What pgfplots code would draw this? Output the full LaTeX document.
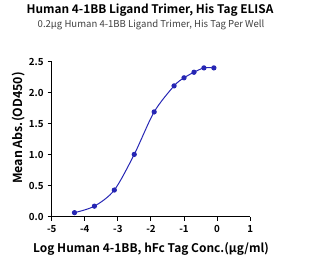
\documentclass[border=0pt]{standalone}
\usepackage{pgfplots}
\pgfplotsset{compat=1.18}
\usepackage{fontspec}
\setmainfont{Noto Sans CJK SC}[BoldFont={Noto Sans CJK SC Bold}]
\definecolor{curve}{HTML}{2626B4}
\begin{document}
\begin{tikzpicture}[x=1bp,y=1bp]
\path[use as bounding box] (0,0) rectangle (323,266);
\begin{axis}[
  scale only axis,
  width=198.5bp, height=155bp,
  at={(51.7bp,49.3bp)}, anchor=south west,
  xmin=-5, xmax=1, ymin=0, ymax=2.5,
  axis lines=left,
  axis line style={line width=0.9pt,-},
  xtick={-5,-4,...,1}, ytick={0,0.5,...,2.5},
  tick style={line width=0.9pt,black},
  tick align=outside, major tick length=4bp,
  /pgf/number format/assume math mode=true,
  yticklabel style={/pgf/number format/fixed,/pgf/number format/fixed zerofill,/pgf/number format/precision=1,font=\fontsize{9.8}{10}\selectfont\bfseries, xshift=-0.5bp},
  xticklabel style={font=\fontsize{9.8}{10}\selectfont\bfseries, yshift=-1.5bp},
  clip=false,
]
\addplot[curve, line width=1pt, smooth, tension=0.5, mark=*, mark size=2.1pt, mark options={fill=curve}]
coordinates {
(-4.311,0.065) (-3.709,0.17) (-3.107,0.43) (-2.505,1.005) (-1.903,1.69)
(-1.301,2.11) (-1.0,2.24) (-0.699,2.33) (-0.398,2.40) (-0.097,2.40)
};
\end{axis}
\node[font=\fontsize{11.9}{13}\selectfont\bfseries] at (150,256) {Human 4-1BB Ligand Trimer, His Tag ELISA};
\node[font=\fontsize{9.6}{10}\selectfont, text=black!75] at (151,241) {0.2μg Human 4-1BB Ligand Trimer, His Tag Per Well};
\node[font=\fontsize{12.5}{13}\selectfont\bfseries, rotate=90] at (19,138) {Mean Abs.(OD450)};
\node[font=\fontsize{12}{13}\selectfont\bfseries] at (151,17) {Log Human 4-1BB, hFc Tag Conc.(μg/ml)};
\end{tikzpicture}
\end{document}
